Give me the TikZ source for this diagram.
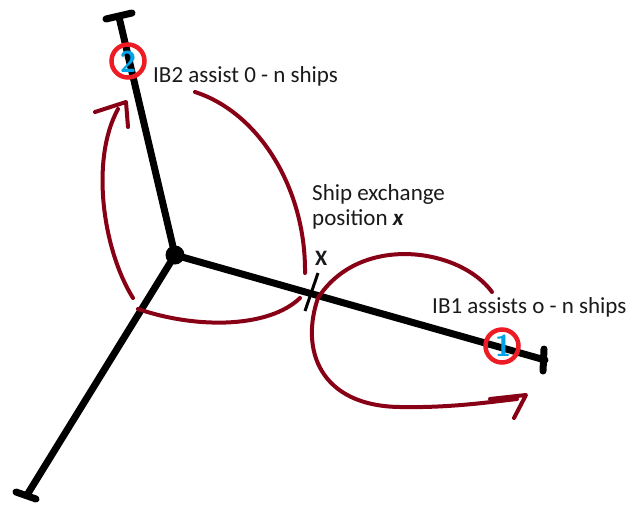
\documentclass[tikz,border=0pt]{standalone}
\usepackage{fontspec}
\setmainfont{Carlito}
\usetikzlibrary{arrows.meta}
\definecolor{darkred}{HTML}{880015}
\definecolor{markred}{HTML}{ED1C24}
\definecolor{markblue}{HTML}{00A2E8}
\definecolor{txt}{HTML}{1A1A1A}
\tikzset{
  axis/.style={line width=7pt, line cap=round},
  tbar/.style={line width=7pt, line cap=round},
  loop/.style={draw=darkred, line width=4pt, line cap=round, line join=round},
  marker/.style={circle, draw=markred, line width=4.5pt, minimum size=33pt, inner sep=0pt},
  digit/.style={text=markblue, font=\fontsize{30}{30}\selectfont\bfseries\sffamily},
  label/.style={text=txt, font=\fontsize{23}{26}\selectfont, inner sep=0pt, anchor=base west},
}
\begin{document}
\begin{tikzpicture}[x=1pt,y=-1pt]
\useasboundingbox (0,0) rectangle (639,504);
\fill[white] (0,0) rectangle (639,504);
% coordinates
\coordinate (hub) at (175,255);
\coordinate (e2) at (119,17);
\coordinate (e3) at (27,495);
\coordinate (e1) at (545,360);
\coordinate (xpos) at (311,294);
% axes
\draw[axis] (hub) -- (e2);
\draw[axis] (hub) -- (e3);
\draw[axis] (hub) -- (e1);
% T bars
\draw[tbar] (106,19) -- (132,13);
\draw[tbar] (16,492) -- (36,499);
\draw[tbar] (544,349) -- (543,371);
% hub
\node[circle, fill=black, minimum size=19pt, inner sep=0pt] (hubdot) at (hub) {};
% exchange tick
\coordinate (tk1) at (318,273);
\coordinate (tk2) at (305,311);
\draw[line width=3pt] (tk1) -- (tk2);
% markers
\node[marker] (c2) at (128,61) {};
\node[digit] (d2) at (128,62) {2};
\node[marker] (c1) at (502,346) {};
\node[digit] (d1) at (503,346) {1};
% loops
\coordinate (l1s) at (133,298);
\coordinate (l1e) at (118,109);
\draw[loop] (l1s) .. controls (103,250) and (90,160) .. (l1e);
\coordinate (a1t) at (126,102);
\coordinate (a1l) at (95,112);
\coordinate (a1r) at (128,127);
\draw[loop] (a1l) -- (a1t) -- (a1r);
\coordinate (l2s) at (195,92);
\coordinate (l2e) at (305,273);
\draw[loop] (l2s) .. controls (260,113) and (306,190) .. (l2e);
\coordinate (l3s) at (138,309);
\coordinate (l3e) at (300,298);
\draw[loop] (l3s) .. controls (200,330) and (270,327) .. (l3e);
\coordinate (l4s) at (492,292);
\coordinate (l4m) at (318,298);
\coordinate (l4b) at (400,407);
\coordinate (l4e) at (517,399);
\draw[loop] (l4s) .. controls (460,248) and (360,233) .. (l4m)
  .. controls (300,350) and (320,406) .. (l4b)
  .. controls (450,408) and (490,402) .. (l4e);
\coordinate (a4t) at (526,395);
\coordinate (a4l) at (490,399);
\coordinate (a4r) at (514,418);
\draw[loop] (a4l) -- (a4t) -- (a4r);
% labels
\node[label] (t2) at (153,82) {IB2 assist 0 - n ships};
\node[label] (t1) at (432,313) {IB1 assists o - n ships};
\node[label] (ts1) at (312,200) {Ship exchange};
\node[label] (ts2) at (312,225) {position \textbf{\textit{x}}};
\node[label, font=\fontsize{22}{24}\selectfont\bfseries] (tx) at (315,265) {X};
\end{tikzpicture}
\end{document}
